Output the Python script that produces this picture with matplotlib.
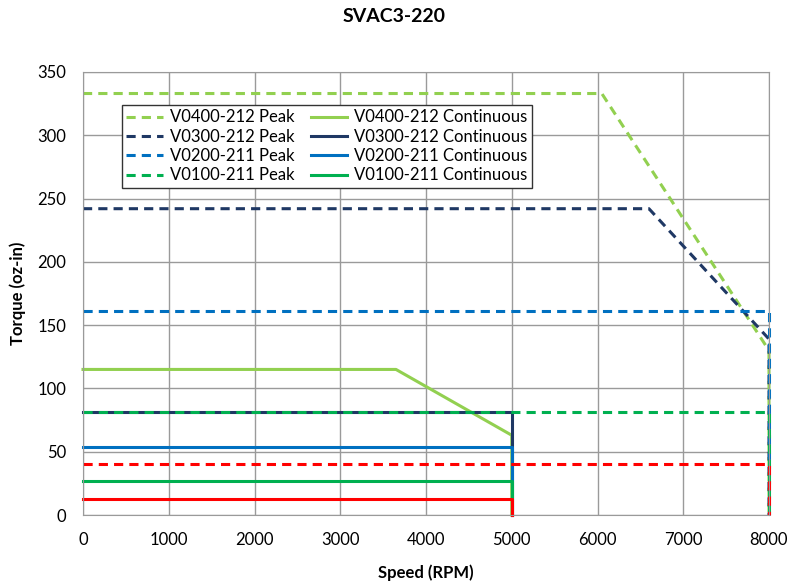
import numpy as np
import matplotlib.pyplot as plt

plt.rcParams['font.family'] = ['Lato', 'DejaVu Sans']

# peak curves (speed rpm, torque oz-in)
v400_peak_x = [0, 6050, 8000, 8000]
v400_peak_y = [333, 333, 130, 0]
v300_peak_x = [0, 6600, 8000, 8000]
v300_peak_y = [242, 242, 139, 0]
v200_peak_x = [0, 8000, 8000]
v200_peak_y = [161, 161, 0]
v100_peak_x = [0, 8000, 8000]
v100_peak_y = [81, 81, 0]
red_peak_x = [0, 8000, 8000]
red_peak_y = [40, 40, 0]

# continuous curves
v400_cont_x = [0, 3650, 5000, 5000]
v400_cont_y = [115, 115, 63, 0]
v300_cont_x = [0, 5000, 5000]
v300_cont_y = [81, 81, 0]
v200_cont_x = [0, 5000, 5000]
v200_cont_y = [54, 54, 0]
v100_cont_x = [0, 5000, 5000]
v100_cont_y = [27, 27, 0]
red_cont_x = [0, 5000, 5000]
red_cont_y = [13, 13, 0]

c400 = '#92D050'
c300 = '#1F3864'
c200 = '#0070C0'
c100 = '#00B050'
cred = '#FF0000'

fig = plt.figure(figsize=(7.89, 5.86), dpi=100)
ax = fig.add_axes([83/789, 1-515/586, 686/789, 443/586])

lw = 2.2
dash = (0, (3, 2))
kw = dict(clip_on=False)
p400, = ax.plot(v400_peak_x, v400_peak_y, color=c400, lw=lw, ls=dash, label='V0400-212 Peak', **kw)
l400, = ax.plot(v400_cont_x, v400_cont_y, color=c400, lw=lw, label='V0400-212 Continuous', **kw)
p300, = ax.plot(v300_peak_x, v300_peak_y, color=c300, lw=lw, ls=dash, label='V0300-212 Peak', **kw)
l300, = ax.plot(v300_cont_x, v300_cont_y, color=c300, lw=lw, label='V0300-212 Continuous', **kw)
p200, = ax.plot(v200_peak_x, v200_peak_y, color=c200, lw=lw, ls=dash, label='V0200-211 Peak', **kw)
l200, = ax.plot(v200_cont_x, v200_cont_y, color=c200, lw=lw, label='V0200-211 Continuous', **kw)
p100, = ax.plot(v100_peak_x, v100_peak_y, color=c100, lw=lw, ls=dash, label='V0100-211 Peak', **kw)
l100, = ax.plot(v100_cont_x, v100_cont_y, color=c100, lw=lw, label='V0100-211 Continuous', **kw)
ax.plot(red_peak_x, red_peak_y, color=cred, lw=lw, ls=dash, **kw)
ax.plot(red_cont_x, red_cont_y, color=cred, lw=lw, **kw)

ax.set_xlim(0, 8000)
ax.set_ylim(0, 350)
ax.set_xticks(np.arange(0, 8001, 1000))
ax.set_yticks(np.arange(0, 351, 50))
ax.grid(True, color='#9A9A9A', lw=1)
ax.set_axisbelow(True)
for s in ax.spines.values():
    s.set_color('#9A9A9A')
ax.tick_params(length=0, labelsize=12, pad=12)

ax.set_xlabel('Speed (RPM)', fontsize=12, fontweight='bold', labelpad=12)
ax.set_ylabel('Torque (oz-in)', fontsize=12, fontweight='bold', labelpad=8)
fig.text(0.5, 1-17/586, 'SVAC3-220', ha='center', va='center', fontsize=14, fontweight='bold')

leg = ax.legend(handles=[p400, p300, p200, p100, l400, l300, l200, l100], ncol=2,
                loc='upper left', bbox_to_anchor=(0.057, 0.925), fontsize=12,
                frameon=True, fancybox=False, edgecolor='#333333', framealpha=1,
                handlelength=2.2, columnspacing=1.0, labelspacing=0.2,
                borderpad=0.25, handletextpad=0.4, borderaxespad=0)
leg.get_frame().set_linewidth(1)

fig.savefig('out.png', dpi=100)
